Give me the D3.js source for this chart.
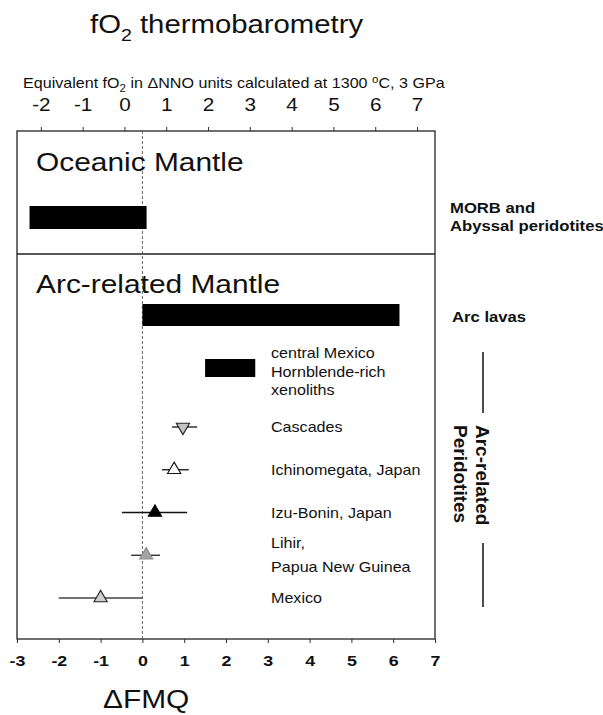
<!DOCTYPE html>
<html>
<head>
<meta charset="utf-8">
<script src="https://cdn.jsdelivr.net/npm/d3@7"></script>
<style>
  html, body { margin: 0; padding: 0; background: #fff; }
  svg { display: block; font-family: "Liberation Sans", Arial, Helvetica, sans-serif; }
</style>
</head>
<body>
<svg id="chart" width="603" height="715"></svg>
<script>
// fO2 ranges (in ΔFMQ log units)
const rangeNames = ["MORB and Abyssal peridotites", "Arc lavas", "central Mexico Hornblende-rich xenoliths"];
const rangeLow   = [-2.7, 0.0, 1.5];
const rangeHigh  = [0.1, 6.15, 2.7];

// Arc-related peridotite suites: mean and spread
const sites     = ["Cascades", "Ichinomegata, Japan", "Izu-Bonin, Japan", "Lihir, Papua New Guinea", "Mexico"];
const siteMean  = [0.97, 0.76, 0.30, 0.09, -1.0];
const siteLow   = [0.71, 0.47, -0.49, -0.27, -2.0];
const siteHigh  = [1.31, 1.11, 1.07, 0.42, 0.0];

// Axis ticks
const fmqTicks = [-3, -2, -1, 0, 1, 2, 3, 4, 5, 6, 7];
const nnoTicks = [-2, -1, 0, 1, 2, 3, 4, 5, 6, 7];
const nnoOffset = 0.43; // ΔNNO = ΔFMQ + offset at 1300 °C, 3 GPa

const svg = d3.select("#chart");
const W = 603, H = 715;
svg.append("rect").attr("width", W).attr("height", H).attr("fill", "#fff");

const frame = { left: 17, right: 435, top: 131, bottom: 639, split: 254 };
const SX = 1.15; // horizontal glyph stretch

const x = d3.scaleLinear().domain([-3, 7]).range([frame.left, frame.right]);
const xNNO = d3.scaleLinear().domain(x.domain().map(d => d + nnoOffset)).range(x.range());

function label(parent, str, px, py, opts = {}) {
  const t = parent.append("text")
    .attr("transform", `translate(${px},${py}) scale(${opts.sx || SX},1)`)
    .attr("font-size", opts.size || 14)
    .attr("font-weight", opts.weight || "normal")
    .attr("text-anchor", opts.anchor || "start")
    .attr("fill", "#111");
  if (str !== null) t.text(str);
  return t;
}

// Title
const title = label(svg, null, 90, 33, { size: 25.5 });
title.append("tspan").text("fO");
title.append("tspan").attr("font-size", 17).attr("dy", 8).text("2");
title.append("tspan").attr("dy", -8).text(" thermobarometry");

// Top axis title
const topTitle = label(svg, null, 23, 88, { size: 14 });
topTitle.append("tspan").text("Equivalent fO");
topTitle.append("tspan").attr("font-size", 10).attr("dy", 4).text("2");
topTitle.append("tspan").attr("dy", -4).text(" in ΔNNO units calculated at 1300 ");
topTitle.append("tspan").attr("font-size", 10).attr("dy", -5).text("o");
topTitle.append("tspan").attr("dy", 5).text("C, 3 GPa");

// Frame and panel divider
const g = svg.append("g");
g.append("rect")
  .attr("x", frame.left).attr("y", frame.top)
  .attr("width", frame.right - frame.left).attr("height", frame.bottom - frame.top)
  .attr("fill", "none").attr("stroke", "#222").attr("stroke-width", 1.3);
g.append("line")
  .attr("x1", frame.left).attr("x2", frame.right)
  .attr("y1", frame.split).attr("y2", frame.split)
  .attr("stroke", "#222").attr("stroke-width", 1.3);

// FMQ = 0 reference
g.append("line")
  .attr("x1", x(0)).attr("x2", x(0))
  .attr("y1", frame.top).attr("y2", frame.bottom)
  .attr("stroke", "#555").attr("stroke-width", 0.9)
  .attr("stroke-dasharray", "3,2");

// Axes
const topAxis = svg.append("g")
  .attr("transform", `translate(0,${frame.top})`)
  .call(d3.axisTop(xNNO).tickValues(nnoTicks).tickSize(4).tickFormat(d => String(d)));
const bottomAxis = svg.append("g")
  .attr("transform", `translate(0,${frame.bottom})`)
  .call(d3.axisBottom(x).tickValues(fmqTicks).tickSize(4).tickFormat(d => String(d)));
[topAxis, bottomAxis].forEach(a => {
  a.select(".domain").remove();
  a.selectAll(".tick line").attr("stroke", "#333").attr("stroke-width", 1);
  a.attr("font-family", null);
});
topAxis.selectAll(".tick text")
  .attr("y", 0).attr("dy", null)
  .attr("transform", `translate(0,-20) scale(${SX},1)`)
  .attr("font-size", 18).attr("fill", "#111");
bottomAxis.selectAll(".tick text")
  .attr("y", 0).attr("dy", null)
  .attr("transform", `translate(0,27) scale(${SX},1)`)
  .attr("font-size", 15.5).attr("font-weight", "bold").attr("fill", "#111");

// Bottom axis title
label(svg, "ΔFMQ", 103, 708, { size: 26 });

// Panel headings
label(g, "Oceanic Mantle", 36, 171, { size: 26 });
label(g, "Arc-related Mantle", 36, 293, { size: 26 });

// Range bars
const barRows = [
  { y: 206, h: 23 },
  { y: 304, h: 22 },
  { y: 359, h: 18 }
];
g.selectAll("rect.range")
  .data(rangeNames)
  .join("rect")
  .attr("class", "range")
  .attr("x", (d, i) => x(rangeLow[i]))
  .attr("width", (d, i) => x(rangeHigh[i]) - x(rangeLow[i]))
  .attr("y", (d, i) => barRows[i].y)
  .attr("height", (d, i) => barRows[i].h)
  .attr("fill", "#000");

// Labels beside the range bars
label(svg, "MORB and", 450, 213, { size: 14.5, weight: "bold" });
label(svg, "Abyssal peridotites", 450, 231, { size: 14.5, weight: "bold" });
label(svg, "Arc lavas", 452, 322, { size: 14.5, weight: "bold" });
["central Mexico", "Hornblende-rich", "xenoliths"].forEach((s, i) => {
  label(g, s, 271, 358 + i * 18.5, { size: 14 });
});

// Peridotite suites
const y = d3.scalePoint().domain(sites).range([427, 598]);
const siteStyle = [
  { fill: "#c4c4c4", stroke: "#222", flip: true,  bar: "#111" },
  { fill: "#fff",    stroke: "#111", flip: false, bar: "#111" },
  { fill: "#000",    stroke: "#000", flip: false, bar: "#111" },
  { fill: "#a3a3a3", stroke: "#8c8c8c", flip: false, bar: "#222" },
  { fill: "#cfcfcf", stroke: "#222", flip: false, bar: "#444" }
];
const tri = d3.symbol(d3.symbolTriangle, 76);

const rows = g.selectAll("g.site")
  .data(sites)
  .join("g")
  .attr("class", "site");
rows.append("line")
  .attr("x1", (d, i) => x(siteLow[i]))
  .attr("x2", (d, i) => x(siteHigh[i]))
  .attr("y1", d => y(d)).attr("y2", d => y(d))
  .attr("stroke", (d, i) => siteStyle[i].bar)
  .attr("stroke-width", 1.3);
rows.append("path")
  .attr("d", tri)
  .attr("transform", (d, i) => `translate(${x(siteMean[i])},${y(d)})${siteStyle[i].flip ? " rotate(180)" : ""}`)
  .attr("fill", (d, i) => siteStyle[i].fill)
  .attr("stroke", (d, i) => siteStyle[i].stroke)
  .attr("stroke-width", 1.1);

const siteLines = [["Cascades"], ["Ichinomegata, Japan"], ["Izu-Bonin, Japan"], ["Lihir,", "Papua New Guinea"], ["Mexico"]];
sites.forEach((s, i) => {
  const lines = siteLines[i];
  const y0 = y(s) + 5 - (lines.length - 1) * 12;
  lines.forEach((t, j) => label(g, t, 271, y0 + j * 24, { size: 14 }));
});

// Vertical group label with bracket lines
const vg = svg.append("g").attr("transform", "translate(476,425) rotate(90)");
vg.append("text").attr("font-size", 19).attr("font-weight", "bold").attr("fill", "#111").text("Arc-related");
vg.append("text").attr("y", 22).attr("font-size", 19).attr("font-weight", "bold").attr("fill", "#111").text("Peridotites");
svg.append("line").attr("x1", 483).attr("x2", 483).attr("y1", 352).attr("y2", 413)
  .attr("stroke", "#111").attr("stroke-width", 1.5);
svg.append("line").attr("x1", 483).attr("x2", 483).attr("y1", 543).attr("y2", 607)
  .attr("stroke", "#111").attr("stroke-width", 1.5);
</script>
</body>
</html>
